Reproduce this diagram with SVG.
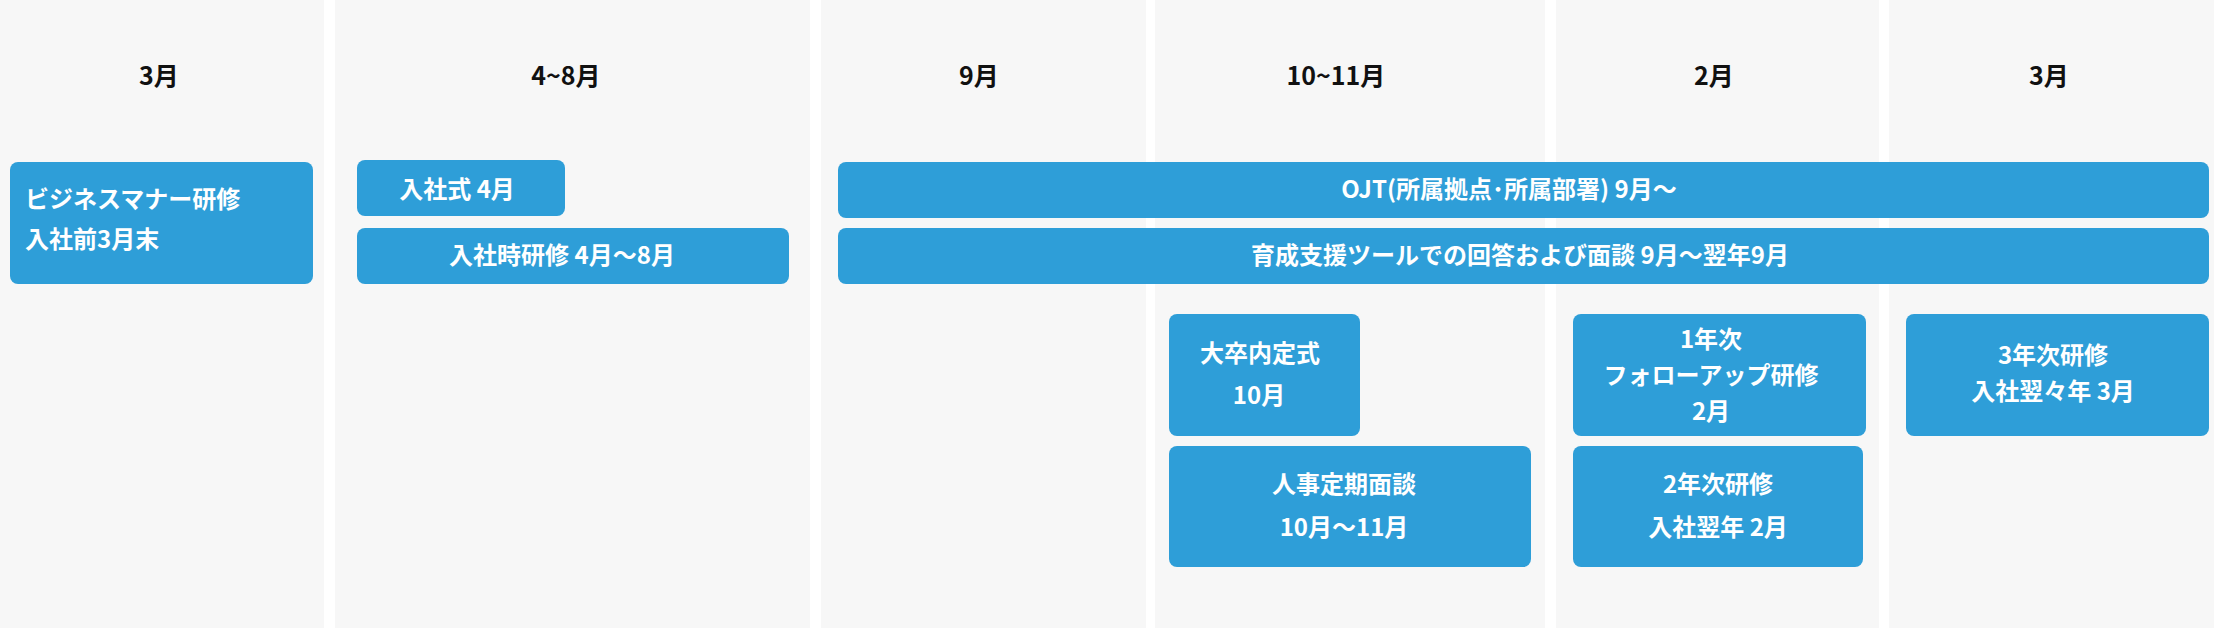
<svg xmlns="http://www.w3.org/2000/svg" width="2214" height="628" viewBox="0 0 2214 628">
<style>
.col{fill:#f7f7f7}
.box{fill:#2e9ed8}
.h{font-family:"Noto Sans CJK JP","Noto Sans",sans-serif;font-weight:bold;font-size:25px;fill:#111;text-anchor:middle}
.t{font-family:"Noto Sans CJK JP","Noto Sans",sans-serif;font-weight:bold;font-size:24px;fill:#fff;text-anchor:middle}
</style>
<rect width="2214" height="628" fill="#fff"/>
<g id="columns">
<rect class="col" x="0" y="0" width="324" height="628"/>
<rect class="col" x="335" y="0" width="475" height="628"/>
<rect class="col" x="821" y="0" width="325" height="628"/>
<rect class="col" x="1155" y="0" width="390" height="628"/>
<rect class="col" x="1556" y="0" width="323" height="628"/>
<rect class="col" x="1889" y="0" width="325" height="628"/>
<text class="h" x="159" y="85">3月</text>
<text class="h" x="566" y="85">4~8月</text>
<text class="h" x="979" y="85">9月</text>
<text class="h" x="1336" y="85">10~11月</text>
<text class="h" x="1714" y="85">2月</text>
<text class="h" x="2049" y="85">3月</text>
</g>
<g id="connectors"/>
<g id="n1"><rect class="box" x="10" y="162" width="303" height="122" rx="8"/>
<text class="t" x="25" y="208" style="text-anchor:start">ビジネスマナー研修</text>
<text class="t" x="25" y="248" style="text-anchor:start">入社前3月末</text></g>
<g id="n2"><rect class="box" x="357" y="160" width="208" height="56" rx="8"/>
<text class="t" x="457" y="198">入社式 4月</text></g>
<g id="n3"><rect class="box" x="357" y="228" width="432" height="56" rx="8"/>
<text class="t" x="562" y="264">入社時研修 4月～8月</text></g>
<g id="n4"><rect class="box" x="838" y="162" width="1371" height="56" rx="8"/>
<text class="t" x="1509" y="198">OJT(所属拠点･所属部署) 9月～</text></g>
<g id="n5"><rect class="box" x="838" y="228" width="1371" height="56" rx="8"/>
<text class="t" x="1520" y="264">育成支援ツールでの回答および面談 9月～翌年9月</text></g>
<g id="n6"><rect class="box" x="1169" y="314" width="191" height="122" rx="8"/>
<text class="t" x="1260" y="362">大卒内定式</text>
<text class="t" x="1259" y="404">10月</text></g>
<g id="n7"><rect class="box" x="1169" y="446" width="362" height="121" rx="8"/>
<text class="t" x="1344" y="493">人事定期面談</text>
<text class="t" x="1344" y="536">10月～11月</text></g>
<g id="n8"><rect class="box" x="1573" y="314" width="293" height="122" rx="8"/>
<text class="t" x="1711" y="348">1年次</text>
<text class="t" x="1711" y="384">フォローアップ研修</text>
<text class="t" x="1711" y="420">2月</text></g>
<g id="n9"><rect class="box" x="1573" y="446" width="290" height="121" rx="8"/>
<text class="t" x="1718" y="493">2年次研修</text>
<text class="t" x="1718" y="536">入社翌年 2月</text></g>
<g id="n10"><rect class="box" x="1906" y="314" width="303" height="122" rx="8"/>
<text class="t" x="2053" y="364">3年次研修</text>
<text class="t" x="2053" y="400">入社翌々年 3月</text></g>
</svg>
